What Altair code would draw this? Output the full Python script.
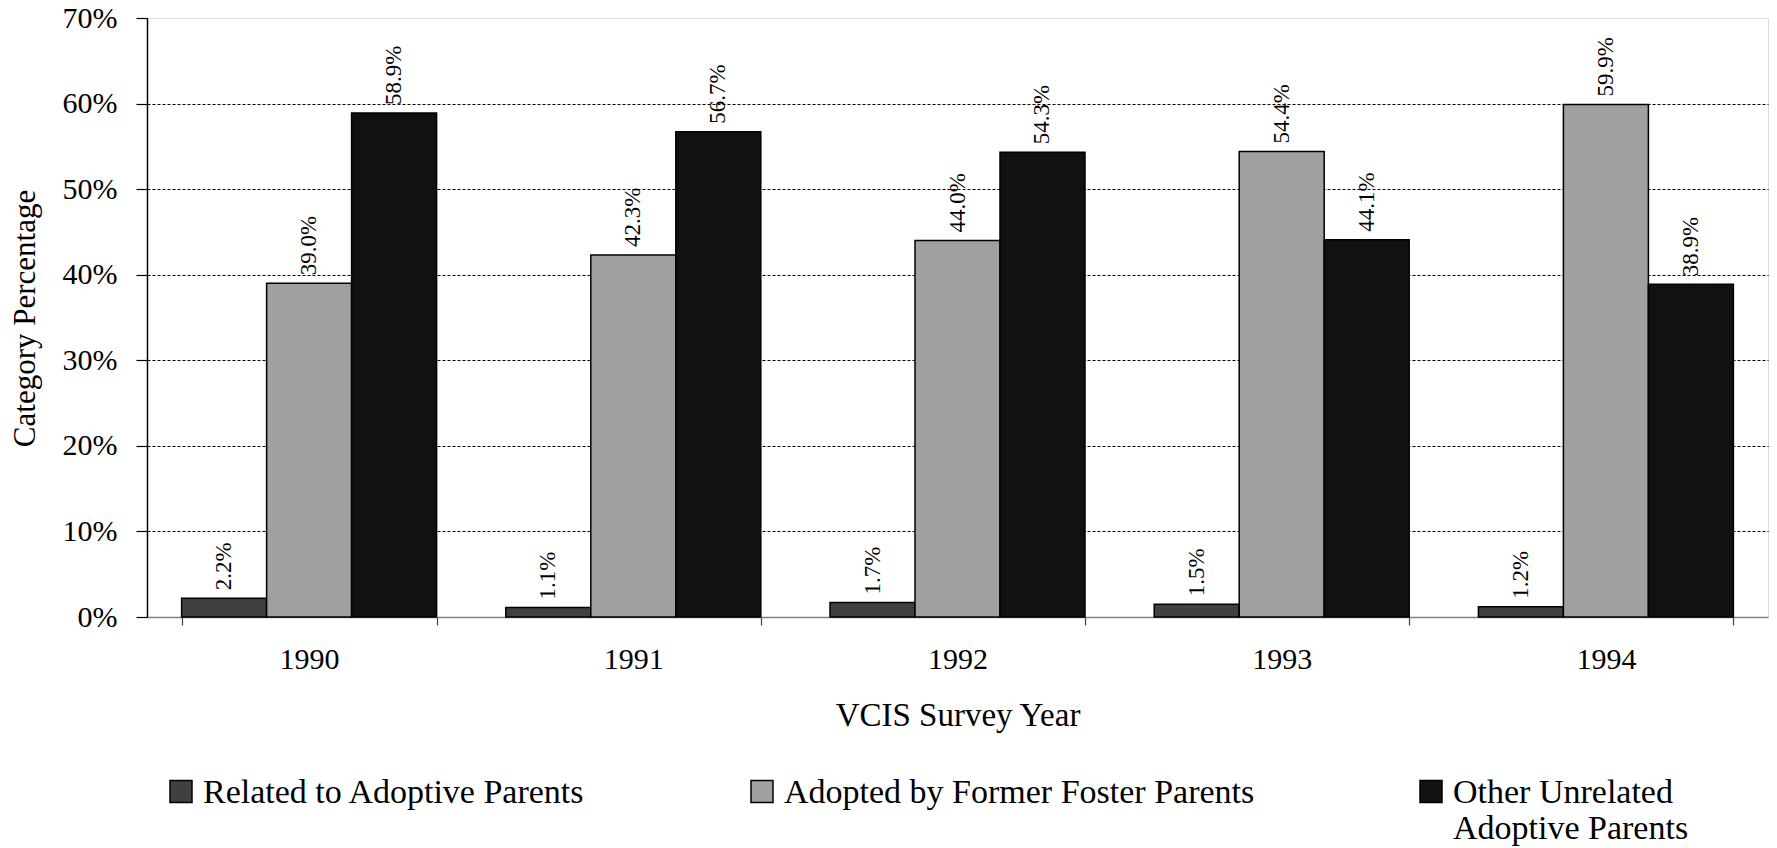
import altair as alt
import pandas as pd

years = ["1990", "1991", "1992", "1993", "1994"]
categories = [
    "Related to Adoptive Parents",
    "Adopted by Former Foster Parents",
    "Other Unrelated Adoptive Parents",
]
related = [2.2, 1.1, 1.7, 1.5, 1.2]
foster = [39.0, 42.3, 44.0, 54.4, 59.9]
other = [58.9, 56.7, 54.3, 44.1, 38.9]
colors = ["#404040", "#a0a0a0", "#111111"]
y_ticks = [0, 10, 20, 30, 40, 50, 60, 70]

rows = []
for series, vals in zip(categories, [related, foster, other]):
    for yr, v in zip(years, vals):
        rows.append({"year": yr, "category": series, "value": v})
df = pd.DataFrame(rows)

FONT = "Liberation Serif"

x_enc = alt.X(
    "year:N",
    sort=years,
    scale=alt.Scale(paddingInner=0.2135, paddingOuter=0.10675),
    axis=alt.Axis(
        title="VCIS Survey Year",
        labelAngle=0,
        tickBand="extent",
        tickSize=8,
        tickColor="#404040",
        tickWidth=1.2,
        domainColor="#808080",
        domainWidth=1.5,
        labelFont=FONT,
        labelFontSize=30,
        labelColor="black",
        labelPadding=19,
        titleFont=FONT,
        titleFontSize=33,
        titleFontWeight="normal",
        titleColor="black",
        titleBaseline="middle",
        titleY=98,
    ),
)
xoff_enc = alt.XOffset("category:N", sort=categories, scale=alt.Scale(paddingInner=0, paddingOuter=0))
y_enc = alt.Y(
    "value:Q",
    scale=alt.Scale(domain=[0, 70], nice=False),
    axis=alt.Axis(
        values=y_ticks,
        labelExpr="datum.value + '%'",
        labelFont=FONT,
        labelFontSize=30,
        labelColor="black",
        labelPadding=19,
        tickSize=11,
        tickColor="black",
        tickWidth=1.2,
        domainColor="black",
        domainWidth=1.5,
        grid=True,
        gridDash=[3, 2],
        gridWidth=1,
        gridColor={"condition": {"test": "datum.value >= 70 || datum.value <= 0", "value": "transparent"}, "value": "#000000"},
        title="Category Percentage",
        titleFont=FONT,
        titleFontSize=31,
        titleFontWeight="normal",
        titleColor="black",
        titleAngle=270,
        titleAlign="center",
        titleBaseline="middle",
        titleX=-122,
        titleY=300,
    ),
)

bars = alt.Chart(df).mark_bar(stroke="black", strokeWidth=1.5).encode(
    x=x_enc,
    xOffset=xoff_enc,
    y=y_enc,
    color=alt.Color(
        "category:N",
        sort=categories,
        scale=alt.Scale(domain=categories, range=colors),
        legend=alt.Legend(
            title=None,
            orient="none",
            legendX=17,
            legendY=741,
            direction="horizontal",
            columns=3,
            columnPadding=159,
            padding=0,
            symbolType="M-1,0.42H1V2.42H-1Z",
            symbolSize=484,
            symbolStrokeColor="black",
            symbolStrokeWidth=1.5,
            symbolOpacity=1,
            labelFont=FONT,
            labelFontSize=34,
            labelColor="black",
            labelOffset=5,
            labelLimit=800,
            labelBaseline="top",
            labelExpr="datum.label == 'Other Unrelated Adoptive Parents' ? ['Other Unrelated', 'Adoptive Parents'] : [datum.label, '']",
        ),
    ),
)

labels = alt.Chart(df).transform_calculate(
    label="format(datum.value, '.1f') + '%'"
).mark_text(
    angle=270, align="left", baseline="middle", dx=8, font=FONT, fontSize=23, color="black"
).encode(
    x=alt.X("year:N", sort=years),
    xOffset=alt.XOffset("category:N", sort=categories),
    y=alt.Y("value:Q"),
    text="label:N",
)

chart = alt.layer(bars, labels).properties(
    width=1621,
    height=599,
    autosize=alt.AutoSizeParams(type="none"),
    padding={"left": 139, "top": 10, "right": 1, "bottom": 231},
).configure_view(stroke="#8c8c8c", strokeWidth=1.5).configure(background="white")

chart.save("out.html", embed_options={"renderer": "svg", "actions": False})
